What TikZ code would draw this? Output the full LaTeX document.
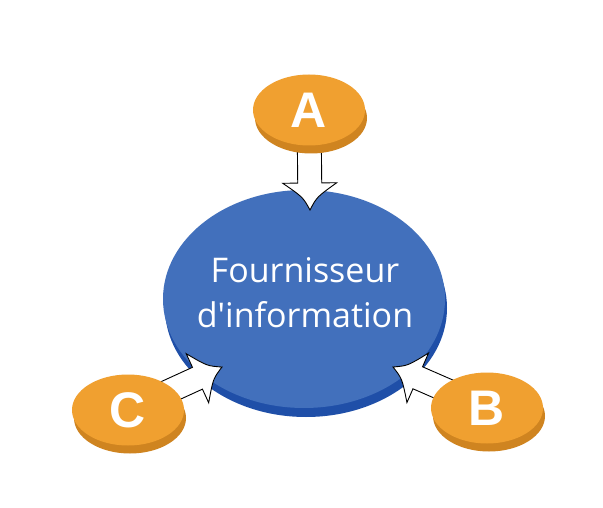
\documentclass[tikz,border=0pt]{standalone}
\usepackage{fontspec}
\newfontfamily\labelfont{Open Sans}[Ligatures=TeXOff]
\newfontfamily\letterfont{Liberation Sans}
\usetikzlibrary{shapes.geometric,calc}
\definecolor{discorange}{HTML}{F0A030}
\definecolor{discorangedark}{HTML}{CF8420}
\definecolor{discblue}{HTML}{4270BC}
\definecolor{discbluedark}{HTML}{1F4FA8}
\definecolor{arrowshade}{HTML}{A0A0A0}
\tikzset{
  orangedisc/.style={ellipse, fill=discorange, minimum width=112pt, minimum height=71pt,
    inner sep=0pt, text=white, font=\letterfont\bfseries\fontsize{50}{50}\selectfont},
  bluedisc/.style={ellipse, fill=discblue, minimum width=282pt, minimum height=218pt, inner sep=0pt},
  arrowbody/.style={fill=white, draw=black, line width=0.9pt, line join=miter},
  arrowshadow/.style={fill=arrowshade}
}
\newcommand\arrowoutline[2]{%
    ($(#1)!12pt!90:(#2)$) -- ($(hb)!12pt!90:(#2)$) -- ($(hb)!27pt!90:(#2)$)
    .. controls ($(hm)!7pt!90:(#2)$) .. (#2)
    .. controls ($(hm)!7pt!-90:(#2)$) .. ($(hb)!27pt!-90:(#2)$)
    -- ($(hb)!12pt!-90:(#2)$) -- ($(#1)!12pt!-90:(#2)$) -- cycle}
\newcommand\blockarrow[2]{%
  \coordinate (hb) at ($(#2)!27pt!(#1)$);
  \coordinate (hm) at ($(#2)!13pt!(#1)$);
  \fill[arrowshadow, shift={(3pt,3pt)}] \arrowoutline{#1}{#2};
  \filldraw[arrowbody] \arrowoutline{#1}{#2};
}
\begin{document}
\begin{tikzpicture}[x=1pt,y=-1pt]
\useasboundingbox (0,0) rectangle (603,508);
\fill[white] (0,0) rectangle (603,508);

% central blue disc
\fill[discbluedark] (306,308) ellipse [x radius=141, y radius=109];
\node[bluedisc] (F) at (304,299) {};
\node[text=white, font=\labelfont\fontsize{34}{45}\selectfont, align=center] (Ftext) at (305,293)
  {Fournisseur\\d'information};

% anchor coordinates for disc centres and arrow tips
\coordinate (cA) at (309,110);
\coordinate (cB) at (487,408);
\coordinate (cC) at (128,410);
\coordinate (tipA) at (310,210);
\coordinate (tipB) at (393,367);
\coordinate (tipC) at (222,367);

% arrows
\blockarrow{cA}{tipA}
\blockarrow{cB}{tipB}
\blockarrow{cC}{tipC}

% orange discs
\fill[discorangedark] ($(cA)+(2,8)$) ellipse [x radius=56, y radius=35.5];
\node[orangedisc] (A) at (cA) {A};
\fill[discorangedark] ($(cB)+(2,8)$) ellipse [x radius=56, y radius=35.5];
\node[orangedisc] (B) at (cB) {B};
\fill[discorangedark] ($(cC)+(2,8)$) ellipse [x radius=56, y radius=35.5];
\node[orangedisc] (C) at (cC) {C};
\end{tikzpicture}
\end{document}
